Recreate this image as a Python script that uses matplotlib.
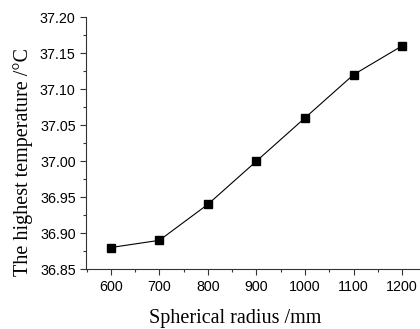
import matplotlib
matplotlib.use('Agg')
import matplotlib.pyplot as plt
from matplotlib.ticker import MultipleLocator

radius = [600, 700, 800, 900, 1000, 1100, 1200]
temp = [36.88, 36.89, 36.94, 37.00, 37.06, 37.12, 37.16]

fig = plt.figure(figsize=(4.2, 3.29), dpi=100)
ax = fig.add_axes([0.205, 0.182, 0.795, 0.766])

ax.plot(radius, temp, color='black', lw=0.8, marker='s', ms=5.5, mfc='black', mec='black')

ax.set_xlim(549, 1237)
ax.set_ylim(36.85, 37.20)
ax.xaxis.set_major_locator(MultipleLocator(100))
ax.xaxis.set_minor_locator(MultipleLocator(50))
ax.yaxis.set_major_locator(MultipleLocator(0.05))
ax.yaxis.set_minor_locator(MultipleLocator(0.025))
ax.yaxis.set_major_formatter(plt.FormatStrFormatter('%.2f'))

for s in ['top', 'right']:
    ax.spines[s].set_visible(False)
for s in ['left', 'bottom']:
    ax.spines[s].set_linewidth(0.8)
    ax.spines[s].set_color('#333333')

ax.tick_params(which='major', direction='out', length=4, width=0.8, colors='#333333',
               labelsize=10.3, labelcolor='black')
ax.tick_params(which='minor', direction='out', length=2, width=0.8, colors='#333333')
for lab in ax.get_xticklabels() + ax.get_yticklabels():
    lab.set_family('Liberation Sans')

ax.set_xlabel('Spherical radius /mm', family='Liberation Serif', fontsize=14.5)
ax.set_ylabel('The highest temperature /\u00b0C', family='Liberation Serif', fontsize=14.5)
ax.xaxis.set_label_coords(0.446, -0.157)
ax.yaxis.set_label_coords(-0.158, 0.426)

fig.savefig('out.png', dpi=100)
